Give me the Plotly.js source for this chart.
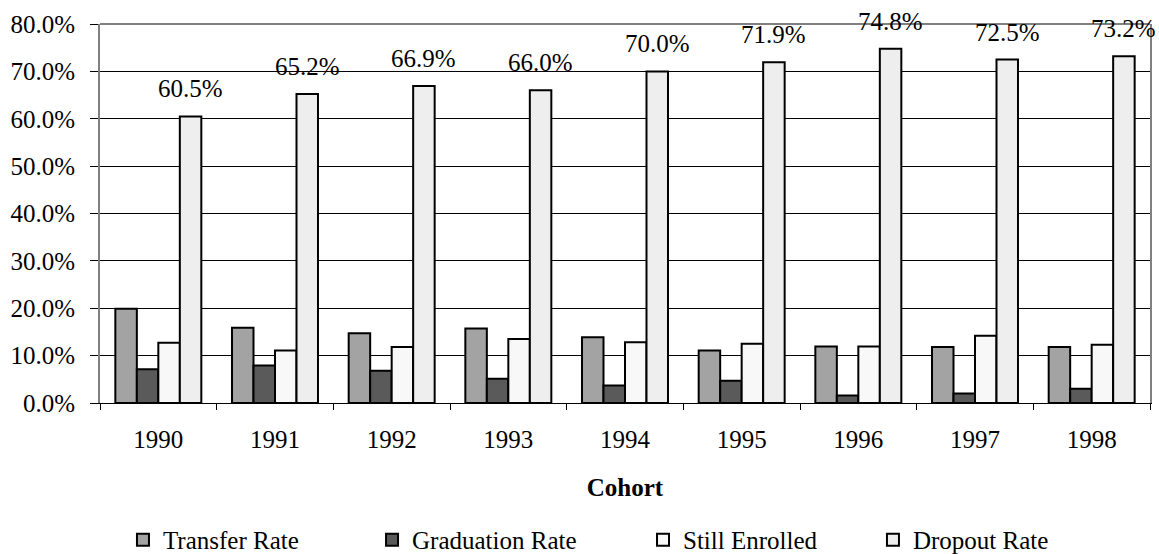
<!DOCTYPE html>
<html>
<head>
<meta charset="utf-8">
<script src="https://cdn.plot.ly/plotly-3.0.1.min.js"></script>
<style>html,body{margin:0;padding:0;background:#fff;}#chart{width:1159px;height:554px;}</style>
</head>
<body>
<div id="chart"></div>
<script>
const cohorts = ['1990','1991','1992','1993','1994','1995','1996','1997','1998'];
const transferRate = [0.199, 0.159, 0.147, 0.157, 0.139, 0.111, 0.119, 0.118, 0.118];
const graduationRate = [0.071, 0.079, 0.068, 0.051, 0.037, 0.047, 0.016, 0.020, 0.030];
const stillEnrolled = [0.127, 0.111, 0.118, 0.135, 0.128, 0.125, 0.119, 0.142, 0.123];
const dropoutRate = [0.605, 0.652, 0.669, 0.660, 0.700, 0.719, 0.748, 0.725, 0.732];
const dropoutLabels = ['60.5%','65.2%','66.9%','66.0%','70.0%','71.9%','74.8%','72.5%','73.2%'];

const FONT = 'Liberation Serif, Times New Roman, serif';
const FS = 25;

function barTrace(name, y, color, legendId) {
  return {
    type: 'bar', name: name, x: cohorts, y: y,
    marker: {color: color, line: {color: '#000', width: 2}},
    legend: legendId, hoverinfo: 'skip'
  };
}
const data = [
  barTrace('Transfer Rate', transferRate, '#a3a3a3', 'legend'),
  barTrace('Graduation Rate', graduationRate, '#5a5a5a', 'legend2'),
  barTrace('Still Enrolled', stillEnrolled, '#f8f8f8', 'legend3'),
  barTrace('Dropout Rate', dropoutRate, '#eeeeee', 'legend4')
];

const annotations = cohorts.map((c, i) => ({
  x: i, y: dropoutRate[i], xref: 'x', yref: 'y',
  text: dropoutLabels[i], showarrow: false,
  xanchor: 'center', yanchor: 'bottom', xshift: 32, yshift: 12,
  font: {family: FONT, size: FS, color: '#000'}
}));

function leg(x) {
  return {orientation: 'h', xref: 'container', yref: 'container',
    x: x, xanchor: 'left', y: 0.0253, yanchor: 'middle',
    font: {family: FONT, size: FS, color: '#000'}, bgcolor: 'rgba(0,0,0,0)', borderwidth: 0};
}

const layout = {
  width: 1159, height: 554,
  margin: {l: 100, r: 9, t: 24, b: 151},
  paper_bgcolor: '#fff', plot_bgcolor: '#fff',
  font: {family: FONT, size: FS, color: '#000'},
  barmode: 'group', bargap: 0.263, bargroupgap: 0,
  showlegend: true,
  legend: leg(0.1061),
  legend2: leg(0.321),
  legend3: leg(0.5548),
  legend4: leg(0.7532),
  xaxis: {
    type: 'category', range: [-0.5, cohorts.length - 0.5], tickangle: 0, automargin: false,
    tickson: 'boundaries', ticks: 'outside', ticklen: 6, tickcolor: '#000',
    showline: true, linecolor: '#000', linewidth: 1, showgrid: false,
    tickfont: {family: FONT, size: FS, color: '#000'}, ticklabelstandoff: 14,
    title: {text: '<b>Cohort</b>', font: {family: FONT, size: FS, color: '#000'}, standoff: 26}
  },
  yaxis: {
    range: [0, 0.8], dtick: 0.1, tickformat: '.1%', ticks: 'outside', ticklen: 8, tickcolor: '#000',
    automargin: false, mirror: true,
    showline: true, linecolor: '#808080', linewidth: 2, showgrid: true, gridcolor: '#000', gridwidth: 1,
    zeroline: false, tickfont: {family: FONT, size: FS, color: '#000'}, ticklabelstandoff: 10
  },
  shapes: [{type: 'line', xref: 'paper', yref: 'paper', x0: 0, x1: 1, y0: 1, y1: 1,
    line: {color: '#808080', width: 2}, layer: 'above'}],
  annotations: annotations
};

Plotly.newPlot('chart', data, layout, {displayModeBar: false, staticPlot: true});
</script>
</body>
</html>
